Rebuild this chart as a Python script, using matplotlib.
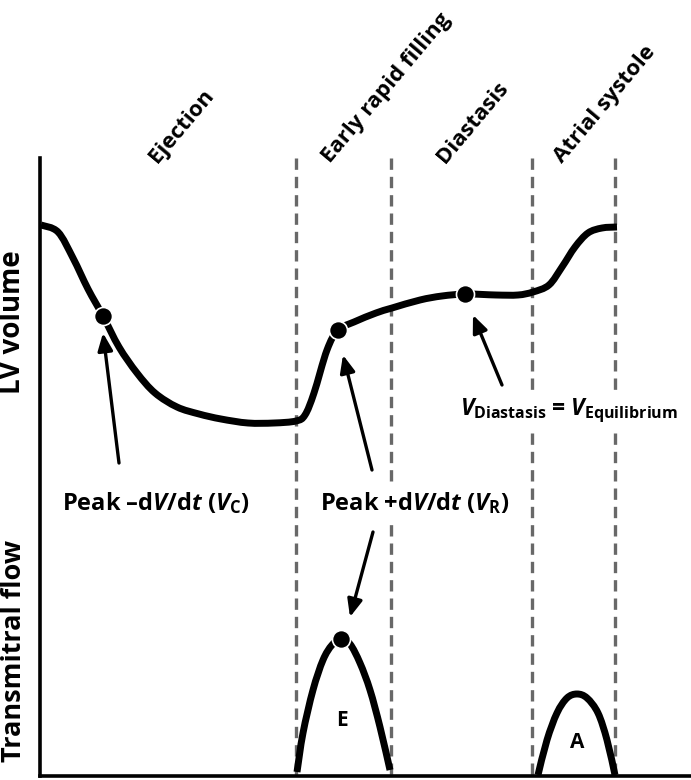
import numpy as np
import matplotlib
matplotlib.use("Agg")
import matplotlib.pyplot as plt
from matplotlib.path import Path
from matplotlib.patches import PathPatch

FONT = 'Open Sans'
plt.rcParams['font.family'] = [FONT, 'DejaVu Sans']
plt.rcParams['font.weight'] = 'bold'
plt.rcParams['mathtext.fontset'] = 'custom'
plt.rcParams['mathtext.rm'] = FONT + ':bold'
plt.rcParams['mathtext.it'] = FONT + ':italic:bold'
plt.rcParams['mathtext.bf'] = FONT + ':bold'

# ---------------- data (schematic, time vs. value in canvas units) -------------
phase_bounds = [296, 391, 532, 615]
phase_names = ["Ejection", "Early rapid filling", "Diastasis", "Atrial systole"]
phase_label_x = [157, 330, 445, 562]

lv_t = [41, 58, 73, 88, 103, 119, 137, 155, 177, 199, 221, 248, 274, 296,
        305, 314, 327, 338, 354, 376, 392, 420, 442, 466, 496, 518, 533,
        549, 562, 575, 588, 602, 617]
lv_v = [225, 232, 258, 289, 316, 347, 373, 393, 407, 414, 419, 423, 423, 421,
        415, 393, 350, 330, 322, 313, 308, 300, 296, 294, 295, 295, 292,
        285, 267, 247, 233, 228, 227]

e_t = [297, 303, 313, 323, 332, 341, 350, 360, 370, 380, 390]
e_flow = [772, 733, 690, 660, 645, 639, 644, 663, 690, 727, 770]

a_t = [538, 547, 557, 567, 577, 587, 598, 607, 615]
a_flow = [775, 740, 713, 698, 694, 698, 713, 740, 775]

key_t = [103, 338, 465, 341]
key_v = [316, 330, 294, 639]

# arrows: (tail_x, tail_y, head_x, head_y)
arrow_tail_x = [119, 372, 502, 373]
arrow_tail_y = [463, 470, 385, 532]
arrow_head_x = [103, 343, 473, 350]
arrow_head_y = [333, 355, 315, 617]


def smooth(x, y):
    pts = np.column_stack([x, y]).astype(float)
    n = len(pts)
    verts = [pts[0]]
    codes = [Path.MOVETO]
    for i in range(n - 1):
        p0 = pts[max(i - 1, 0)]
        p1 = pts[i]
        p2 = pts[i + 1]
        p3 = pts[min(i + 2, n - 1)]
        c1 = p1 + (p2 - p0) / 6.0
        c2 = p2 - (p3 - p1) / 6.0
        verts += [c1, c2, p2]
        codes += [Path.CURVE4] * 3
    return Path(verts, codes)


W, H = 691, 780
fig = plt.figure(figsize=(W / 100, H / 100), dpi=100)
x0, y_bot, y_top = 40, 776, 158
ax = fig.add_axes([x0 / W, (H - y_bot) / H, (W - x0) / W, (y_bot - y_top) / H])
ax.set_xlim(x0, W)
ax.set_ylim(y_bot, y_top)
for s in ['top', 'right']:
    ax.spines[s].set_visible(False)
for s in ['left', 'bottom']:
    ax.spines[s].set_linewidth(2.6)
    ax.spines[s].set_color('black')
ax.set_xticks([])
ax.set_yticks([])
ax.patch.set_alpha(0)

# dashed phase boundaries
for xb in phase_bounds:
    ax.plot([xb, xb], [y_top, y_bot], color='#686868', lw=2.4,
            linestyle=(0, (3.4, 2.1)), zorder=1, clip_on=False)

# curves
for tx, ty in [(lv_t, lv_v), (e_t, e_flow), (a_t, a_flow)]:
    ax.add_patch(PathPatch(smooth(tx, ty), fill=False, lw=5.0, ec='black',
                           capstyle='butt', joinstyle='round', zorder=3,
                           clip_on=False))

ax.plot(key_t, key_v, 'o', ms=13, color='black', mec='white', mew=1.2,
        zorder=5, clip_on=False)

for tx, ty, hx, hy in zip(arrow_tail_x, arrow_tail_y, arrow_head_x, arrow_head_y):
    ax.annotate('', xy=(hx, hy), xytext=(tx, ty),
                arrowprops=dict(arrowstyle='-|>,head_length=0.75,head_width=0.32',
                                lw=2.4, color='black', mutation_scale=14,
                                shrinkA=0, shrinkB=0), zorder=6)

# phase labels
for name, lx in zip(phase_names, phase_label_x):
    ax.text(lx, 164, name, rotation=50, rotation_mode='anchor', ha='left',
            va='baseline', fontsize=16, fontweight='bold')

# annotation labels
box = dict(facecolor='white', edgecolor='none', pad=3)
ax.text(62, 510, r"Peak –d$\mathit{V}$/d$\mathit{t}$ ($\mathit{V}_{\mathrm{C}}$)",
        fontsize=17, fontweight='bold', ha='left', va='baseline', bbox=box, zorder=4)
ax.text(320, 510, r"Peak +d$\mathit{V}$/d$\mathit{t}$ ($\mathit{V}_{\mathrm{R}}$)",
        fontsize=17, fontweight='bold', ha='left', va='baseline', bbox=box, zorder=4)
ax.text(460, 415, r"$\mathit{V}_{\mathrm{Diastasis}}$ = $\mathit{V}_{\mathrm{Equilibrium}}$",
        fontsize=16.5, fontweight='bold', ha='left', va='baseline', bbox=box, zorder=4)

ax.text(342, 720, "E", fontsize=15, fontweight='bold', ha='center', va='center')
ax.text(577, 743, "A", fontsize=15, fontweight='bold', ha='center', va='center')

# axis titles
ax.text(13, 322, "LV volume", rotation=90, fontsize=20, fontweight='bold',
        ha='center', va='center')
ax.text(14, 651, "Transmitral flow", rotation=90, fontsize=19.5, fontweight='bold',
        ha='center', va='center')

fig.savefig("out.png", dpi=100)
